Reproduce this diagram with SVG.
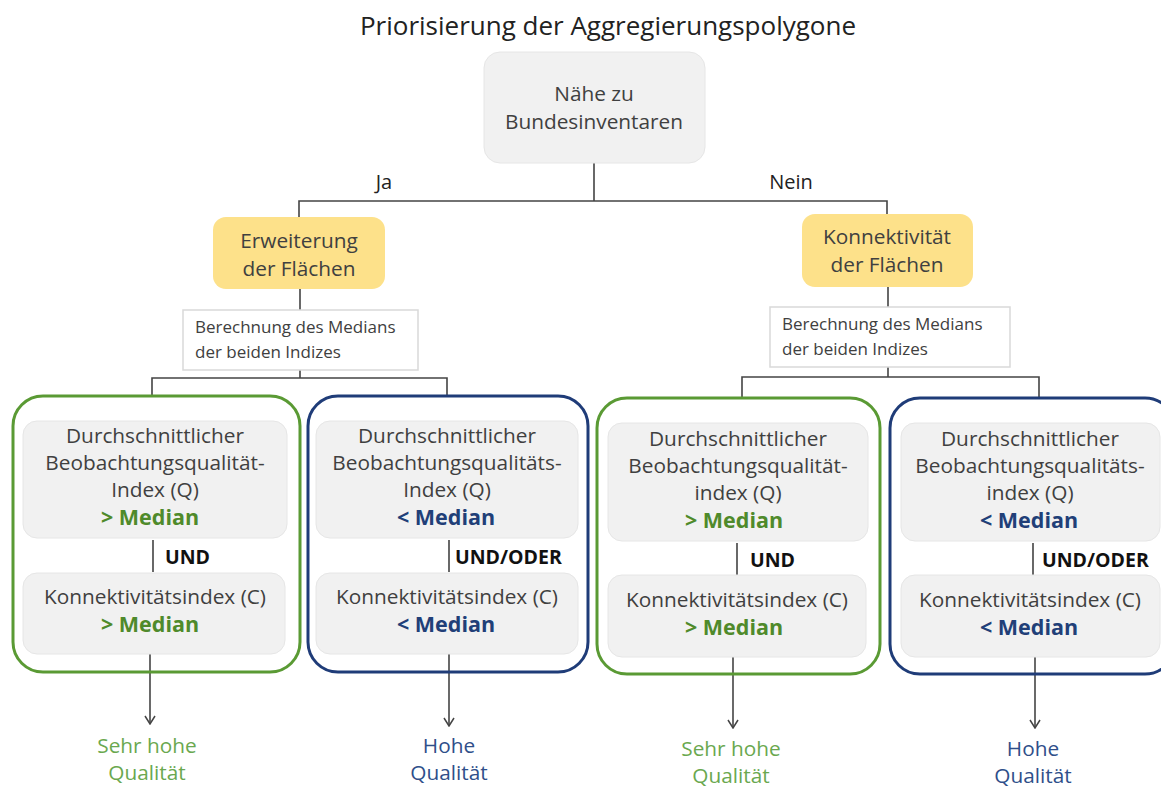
<svg xmlns="http://www.w3.org/2000/svg" width="1161" height="787" viewBox="0 0 1161 787">
<style>
text{font-family:"Open Sans",Lato,"Liberation Sans",sans-serif;fill:#404040;font-size:20.8px;text-anchor:middle}
.title{font-size:26px;fill:#222}
.small{font-size:17px;text-anchor:start}
.lbl{font-size:20px;fill:#222}
.bold{font-weight:bold;font-size:21.5px}
.g{fill:#4f8a2b}
.b{fill:#213f78}
.og{fill:#6aa84f}
.ob{fill:#2f4f8a}
.and{font-weight:bold;fill:#111;text-anchor:start;font-size:19.5px}
.gray{fill:#f1f1f1;stroke:#e6e6e6;stroke-width:1}
.yel{fill:#fde18a}
.wbox{fill:#fff;stroke:#d9d9d9;stroke-width:1.5}
.gout{fill:none;stroke:#5a9a34;stroke-width:3}
.bout{fill:none;stroke:#1f3c78;stroke-width:3}
.ln{fill:none;stroke:#444;stroke-width:1.6}
</style>
<defs>
<marker id="arr" viewBox="0 0 12 12" refX="11" refY="6" markerWidth="12" markerHeight="12" markerUnits="userSpaceOnUse" orient="auto">
<path d="M3 1 L11 6 L3 11" fill="none" stroke="#444" stroke-width="1.5"/>
</marker>
</defs>
<rect width="1161" height="787" fill="#fff"/>
<text class="title" x="608" y="35">Priorisierung der Aggregierungspolygone</text>

<g id="connectors">
<path class="ln" d="M594 163 V201 M299 217 V201 H887 V214"/>
<path class="ln" d="M300 289 V310 M888 287 V307"/>
<path class="ln" d="M300 370 V378 M152 396 V378 H447 V396"/>
<path class="ln" d="M888 367 V377 M742 398 V377 H1039 V398"/>
<path class="ln" d="M153 540 V572 M449 540 V572 M737 543 V575 M1033 543 V575"/>
<path class="ln" d="M150 654 V724" marker-end="url(#arr)"/>
<path class="ln" d="M449 654 V726" marker-end="url(#arr)"/>
<path class="ln" d="M733 657 V728" marker-end="url(#arr)"/>
<path class="ln" d="M1035 657 V728" marker-end="url(#arr)"/>
<text class="lbl" x="384" y="189">Ja</text>
<text class="lbl" x="791" y="189">Nein</text>
</g>

<g id="top">
<rect class="gray" x="484" y="52" width="221" height="111" rx="16"/>
<text x="594" y="101">Nähe zu</text>
<text x="594" y="129">Bundesinventaren</text>
</g>

<g id="erweiterung">
<rect class="yel" x="213" y="217" width="172" height="72" rx="13"/>
<text x="299" y="248">Erweiterung</text>
<text x="299" y="276">der Flächen</text>
</g>

<g id="konnektivitaet">
<rect class="yel" x="802" y="214" width="171" height="73" rx="13"/>
<text x="887" y="244">Konnektivität</text>
<text x="887" y="272">der Flächen</text>
</g>

<g id="median-left">
<rect class="wbox" x="183" y="310" width="235" height="60"/>
<text class="small" x="195" y="333">Berechnung des Medians</text>
<text class="small" x="195" y="358">der beiden Indizes</text>
</g>

<g id="median-right">
<rect class="wbox" x="770" y="307" width="240" height="60"/>
<text class="small" x="782" y="330">Berechnung des Medians</text>
<text class="small" x="782" y="355">der beiden Indizes</text>
</g>

<g id="group1">
<rect class="gout" x="13" y="396" width="287" height="276" rx="30"/>
<rect class="gray" x="23" y="421" width="264" height="117" rx="14"/>
<text x="155" y="443">Durchschnittlicher</text>
<text x="155" y="470">Beobachtungsqualität-</text>
<text x="155" y="497">Index (Q)</text>
<text class="bold g" x="150" y="525">&gt; Median</text>
<text class="and" x="165" y="564">UND</text>
<rect class="gray" x="23" y="573" width="262" height="81" rx="14"/>
<text x="155" y="604">Konnektivitätsindex (C)</text>
<text class="bold g" x="150" y="632">&gt; Median</text>
<text class="og" x="147" y="753">Sehr hohe</text>
<text class="og" x="147" y="780">Qualität</text>
</g>

<g id="group2">
<rect class="bout" x="308" y="396" width="280" height="276" rx="30"/>
<rect class="gray" x="316" y="421" width="262" height="117" rx="14"/>
<text x="447" y="443">Durchschnittlicher</text>
<text x="447" y="470">Beobachtungsqualitäts-</text>
<text x="447" y="497">Index (Q)</text>
<text class="bold b" x="446" y="525">&lt; Median</text>
<text class="and" x="455" y="564">UND/ODER</text>
<rect class="gray" x="316" y="573" width="262" height="81" rx="14"/>
<text x="447" y="604">Konnektivitätsindex (C)</text>
<text class="bold b" x="446" y="632">&lt; Median</text>
<text class="ob" x="449" y="753">Hohe</text>
<text class="ob" x="449" y="780">Qualität</text>
</g>

<g id="group3">
<rect class="gout" x="597" y="398" width="283" height="276" rx="30"/>
<rect class="gray" x="608" y="423" width="260" height="118" rx="14"/>
<text x="738" y="446">Durchschnittlicher</text>
<text x="738" y="473">Beobachtungsqualität-</text>
<text x="738" y="500">index (Q)</text>
<text class="bold g" x="734" y="528">&gt; Median</text>
<text class="and" x="750" y="567">UND</text>
<rect class="gray" x="608" y="575" width="258" height="82" rx="14"/>
<text x="737" y="607">Konnektivitätsindex (C)</text>
<text class="bold g" x="734" y="635">&gt; Median</text>
<text class="og" x="731" y="756">Sehr hohe</text>
<text class="og" x="731" y="783">Qualität</text>
</g>

<g id="group4">
<rect class="bout" x="890" y="398" width="285" height="276" rx="30"/>
<rect class="gray" x="901" y="423" width="259" height="118" rx="14"/>
<text x="1030" y="446">Durchschnittlicher</text>
<text x="1030" y="473">Beobachtungsqualitäts-</text>
<text x="1030" y="500">index (Q)</text>
<text class="bold b" x="1029" y="528">&lt; Median</text>
<text class="and" x="1042" y="567">UND/ODER</text>
<rect class="gray" x="901" y="575" width="259" height="82" rx="14"/>
<text x="1030" y="607">Konnektivitätsindex (C)</text>
<text class="bold b" x="1029" y="635">&lt; Median</text>
<text class="ob" x="1033" y="756">Hohe</text>
<text class="ob" x="1033" y="783">Qualität</text>
</g>
</svg>
